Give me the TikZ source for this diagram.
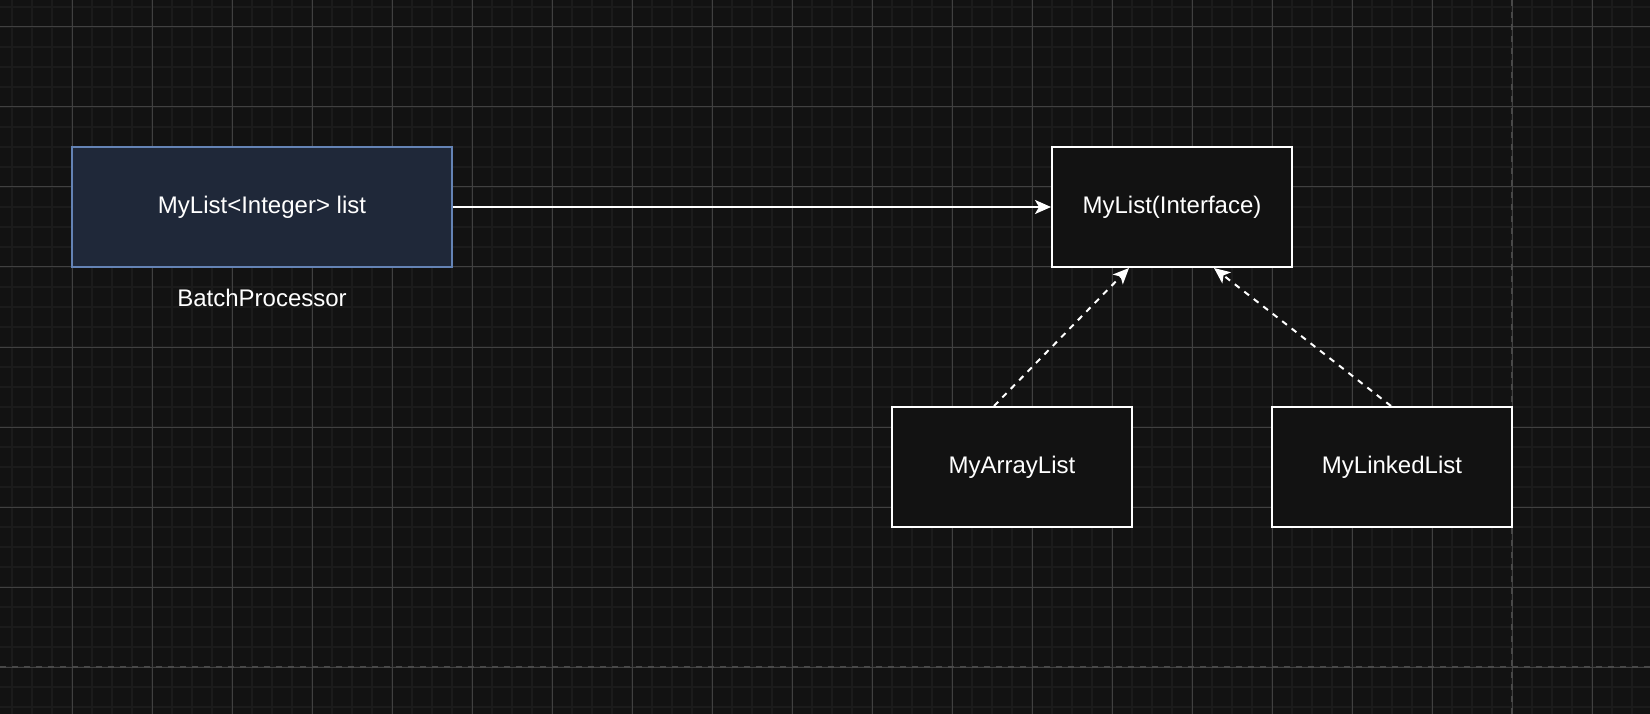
\documentclass[tikz,border=0pt]{standalone}
\usepackage{fontspec}
\setmainfont{Liberation Sans}
\usetikzlibrary{arrows.meta,calc}
\definecolor{bgc}{HTML}{121212}
\definecolor{minorc}{HTML}{1B1B1B}
\definecolor{majorc}{HTML}{404040}
\definecolor{pagec}{HTML}{484848}
\definecolor{bfill}{HTML}{1F2839}
\definecolor{bdraw}{HTML}{6483B5}
\tikzset{
  box/.style={draw=white, fill=bgc, line width=2pt, minimum width=240pt, minimum height=120pt, text=white, font=\fontsize{24}{28}\selectfont, inner sep=0pt},
  bluebox/.style={box, draw=bdraw, fill=bfill, minimum width=380pt},
  lbl/.style={text=white, font=\fontsize{24}{28}\selectfont, inner sep=0pt},
  conn/.style={draw=white, line width=2pt, -{Stealth[length=16pt, width=14pt, inset=4pt]}},
  dconn/.style={conn, dash pattern=on 6pt off 6pt},
}
\begin{document}
\begin{tikzpicture}[x=1pt,y=-1pt]
\useasboundingbox (0,0) rectangle (1650,714);
\fill[bgc] (0,0) rectangle (1650,714);
% minor grid
\foreach \x in {12,32,...,1652} \draw[minorc, line width=2pt] (\x,0) -- (\x,714);
\foreach \y in {7,27,...,714} \draw[minorc, line width=2pt] (0,\y) -- (1650,\y);
% major grid
\foreach \x in {72,152,...,1650} \draw[majorc, line width=1pt] (\x,0) -- (\x,714);
\foreach \y in {27,107,...,714} \draw[majorc, line width=1pt] (0,\y) -- (1650,\y);
% page boundaries
\draw[pagec, line width=2pt, dash pattern=on 6pt off 6pt] (1512,0) -- (1512,714);
\draw[pagec, line width=2pt, dash pattern=on 6pt off 6pt] (0,667) -- (1650,667);
% nodes
\node[bluebox] (batch) at (262,207) {MyList<Integer> list};
\node[lbl] (batchlbl) at (262,298) {BatchProcessor};
\node[box] (mylist) at (1172,207) {MyList(Interface)};
\node[box] (arr) at (1012,467) {MyArrayList};
\node[box] (linked) at (1392,467) {MyLinkedList};
% connectors
\draw[conn] (batch.east) -- (mylist.west);
\draw[dconn] ($(arr.north)+(-18,0)$) -- ($(mylist.south)+(-43,0)$);
\draw[dconn] ($(linked.north)+(-1,0)$) -- ($(mylist.south)+(42,0)$);
\end{tikzpicture}
\end{document}
